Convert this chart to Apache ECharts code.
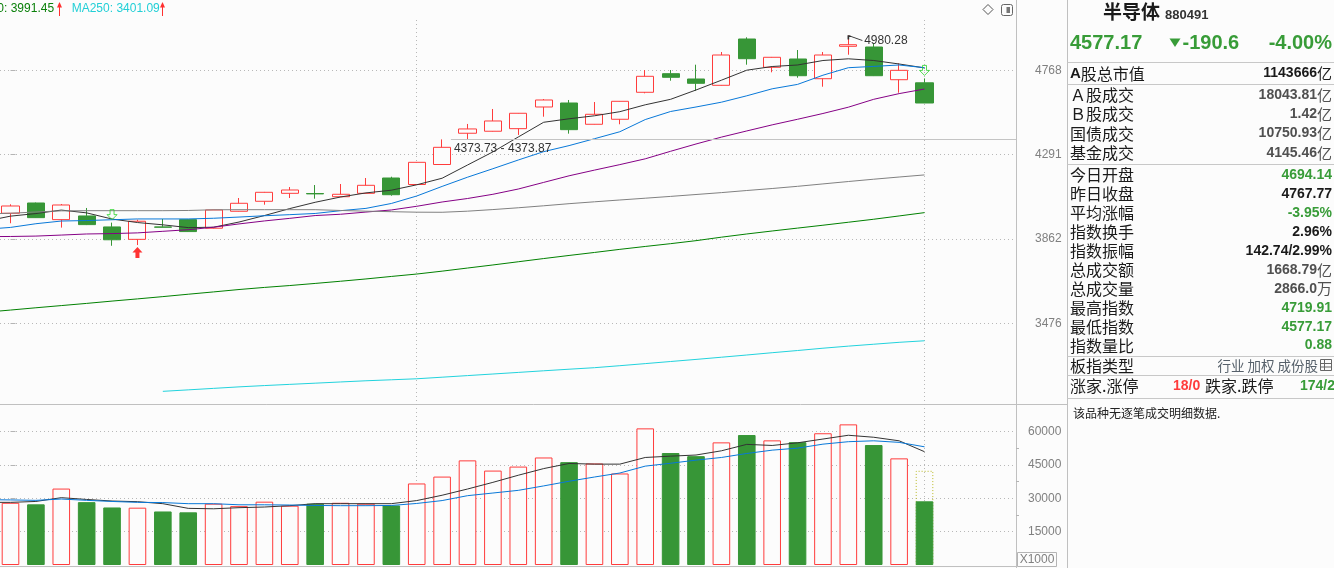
<!DOCTYPE html>
<html>
<head>
<meta charset="utf-8">
<title>半导体 880491</title>
<script src="https://cdn.jsdelivr.net/npm/echarts@6.0.0/dist/echarts.min.js"></script>
<style>
html,body{margin:0;padding:0;background:#fcfcfc;overflow:hidden;}
#chart{width:1334px;height:568px;}
</style>
</head>
<body>
<div id="chart"></div>
<script>
// ================= DATA =================
const opens  = [3988.3, 4039.8, 3956.6, 3974.9, 3920.8, 3860.4, 3920.8, 3956.6, 3914.5, 3998.2, 4048.4, 4088.9, 4087.9, 4071.6, 4088.9, 4167.8, 4134.1, 4238.7, 4407.5, 4418.5, 4432.8, 4554.4, 4577.2, 4457.2, 4485.1, 4638.8, 4747.8, 4716.5, 4679.5, 4958.1, 4785.9, 4835.8, 4718.2, 4913.1, 4908.8, 4712.3, 4694.14];
const closes = [4024.7, 3966.5, 4029.7, 3932.1, 3858.4, 3948.7, 3919.4, 3898.0, 4004.7, 4038.3, 4094.1, 4105.8, 4085.9, 4083.9, 4130.0, 4081.8, 4250.3, 4330.7, 4431.2, 4475.6, 4518.8, 4594.4, 4427.3, 4513.1, 4586.9, 4732.4, 4726.5, 4691.2, 4860.0, 4837.6, 4846.1, 4735.9, 4860.0, 4922.9, 4735.9, 4767.77, 4577.17];
const lows   = [3938.9, 3965.0, 3917.4, 3930.0, 3829.6, 3833.0, 3919.0, 3896.0, 3913.0, 3997.0, 4031.2, 4065.0, 4061.5, 4070.0, 4088.0, 4076.7, 4133.0, 4237.0, 4373.87, 4417.0, 4398.2, 4499.6, 4405.3, 4456.0, 4457.2, 4633.0, 4706.5, 4648.0, 4678.0, 4801.5, 4756.1, 4724.1, 4671.3, 4861.8, 4734.0, 4636.5, 4577.17];
const highs  = [4033.2, 4042.0, 4034.7, 4014.7, 3941.9, 3956.6, 3960.1, 3958.0, 4006.0, 4065.0, 4096.0, 4121.2, 4131.5, 4136.7, 4167.8, 4174.6, 4252.0, 4373.73, 4458.9, 4543.1, 4520.0, 4600.1, 4594.4, 4582.9, 4588.0, 4769.8, 4769.8, 4801.5, 4878.3, 4968.6, 4848.0, 4890.4, 4878.3, 4980.28, 4931.5, 4809.9, 4719.91];

// moving averages: first value belongs to the bar just left of the window
const MA_START = -1;
const ma5   = [3948.7, 3973.9, 3986.8, 4004.2, 3990.2, 3959.6, 3942.3, 3931.1, 3917.4, 3919.4, 3944.8, 3976.9, 4011.7, 4043.3, 4070.1, 4091.0, 4104.8, 4132.6, 4166.7, 4236.0, 4306.0, 4387.0, 4468.3, 4487.9, 4504.7, 4527.8, 4566.9, 4598.4, 4652.1, 4709.4, 4768.6, 4790.7, 4799.7, 4826.7, 4837.0, 4826.7, 4805.7, 4782.3];
const ma10  = [3909.1, 3918.4, 3936.5, 3949.7, 3952.2, 3956.1, 3960.1, 3960.1, 3960.1, 3963.5, 3969.4, 3975.9, 3981.3, 3987.3, 4001.2, 4012.7, 4037.3, 4075.2, 4124.3, 4172.0, 4216.5, 4262.6, 4307.3, 4340.0, 4377.4, 4415.8, 4483.4, 4528.9, 4554.4, 4581.8, 4618.5, 4659.1, 4684.8, 4738.9, 4783.5, 4791.3, 4799.7, 4783.5];
const ma20  = [3873.4, 3874.3, 3876.2, 3881.1, 3886.4, 3888.3, 3891.7, 3899.4, 3907.2, 3919.4, 3935.5, 3950.2, 3963.0, 3976.9, 3983.3, 3994.2, 4004.7, 4023.2, 4044.8, 4062.5, 4083.9, 4110.9, 4145.0, 4179.3, 4209.1, 4238.1, 4268.9, 4309.4, 4348.7, 4386.2, 4420.2, 4453.9, 4485.1, 4517.6, 4553.3, 4598.4, 4631.2, 4657.9];
const ma60  = [3984.8, 3988.3, 3994.7, 4000.2, 4001.2, 4001.2, 4001.2, 4001.2, 4002.2, 4005.7, 4006.2, 4006.2, 4006.2, 4006.2, 4002.2, 3998.7, 3996.2, 3993.7, 3993.2, 3998.7, 4006.7, 4015.7, 4025.7, 4036.3, 4045.8, 4054.9, 4064.0, 4073.2, 4082.8, 4092.5, 4103.3, 4113.5, 4124.8, 4137.2, 4149.6, 4161.6, 4173.0, 4184.0];
const ma120 = [3524.4, 3534.1, 3544.2, 3553.9, 3563.6, 3573.9, 3583.7, 3593.9, 3604.7, 3615.1, 3625.9, 3635.4, 3644.0, 3653.6, 3663.6, 3674.1, 3685.6, 3696.7, 3710.1, 3724.5, 3738.9, 3753.9, 3768.9, 3783.5, 3797.7, 3812.5, 3826.3, 3839.7, 3854.1, 3870.9, 3886.4, 3900.9, 3915.0, 3929.1, 3943.8, 3958.6, 3974.9, 3991.45];
const ma250 = [null, null, null, null, null, null, null, 3192.9, 3198.8, 3204.8, 3210.8, 3216.0, 3220.8, 3225.6, 3230.5, 3235.3, 3239.3, 3243.4, 3249.8, 3256.3, 3262.8, 3269.3, 3275.9, 3282.4, 3288.6, 3296.8, 3305.4, 3314.1, 3322.8, 3331.9, 3341.1, 3350.7, 3359.9, 3369.6, 3378.4, 3386.4, 3394.5, 3401.09];

// volume (x1000)
const volumes = [28000, 27300, 34400, 28300, 25900, 25800, 24100, 23700, 27600, 26500, 28500, 26700, 27600, 28000, 27600, 26800, 36700, 39800, 47100, 42500, 44300, 48400, 46300, 45700, 41200, 61500, 50400, 49000, 55200, 58500, 56100, 55300, 59300, 63300, 54000, 48000, 28660];
const volEstimateIndex = 36;
const volEstimate = 42400;
const volMa5  = [28200, 28200, 28600, 30300, 29500, 28800, 28500, 27600, 25500, 25300, 25800, 26100, 26700, 27600, 27600, 27600, 27600, 29000, 31400, 34200, 37200, 40400, 43400, 45700, 45400, 45400, 48400, 49000, 49500, 51400, 54300, 53800, 55000, 56700, 58400, 57500, 55900, 51000];
const volMa10 = [29400, 29300, 29100, 29700, 29100, 28600, 28200, 28100, 27600, 27600, 27100, 27100, 27000, 26800, 26700, 26700, 26800, 27700, 29000, 31200, 32400, 33600, 35600, 37700, 39600, 41400, 44500, 45800, 47200, 48400, 50200, 51700, 52600, 54400, 55500, 55900, 55200, 53200];

// axes
const priceTicks = [3476, 3862, 4291, 4768];
const volumeTicks = [15000, 30000, 45000, 60000];
const volumeMinorTicks = [22500, 37500, 52500];
const monthMarks = [16, 36];

// annotations
const gapIndex = 17, gapLow = 4373.73, gapHigh = 4373.87;
const highMarkIndex = 33;
const sellSignals = [4, 36];
const buySignals = [5];

// info panel texts
const panelTitle = '半导体', panelCode = '880491';
const quoteLast = '4577.17', quoteChange = '-190.6', quotePct = '-4.00%';
const infoLabels1 = ['A股总市值', 'Ａ股成交', 'Ｂ股成交', '国债成交', '基金成交'];
const infoValues1 = ['1143666亿', '18043.81亿', '1.42亿', '10750.93亿', '4145.46亿'];
const infoTone1   = ['flat', 'muted', 'muted', 'muted', 'muted'];
const infoLabels2 = ['今日开盘', '昨日收盘', '平均涨幅', '指数换手', '指数振幅', '总成交额', '总成交量', '最高指数', '最低指数', '指数量比'];
const infoValues2 = ['4694.14', '4767.77', '-3.95%', '2.96%', '142.74/2.99%', '1668.79亿', '2866.0万', '4719.91', '4577.17', '0.88'];
const infoTone2   = ['down', 'flat', 'down', 'flat', 'flat', 'muted', 'muted', 'down', 'down', 'down'];
const boardTypeLabel = '板指类型', boardTypeValue = '行业 加权 成份股';
const breadth = ['涨家.涨停', '18/0', '跌家.跌停', '174/2'];
const tickNote = '该品种无逐笔成交明细数据.';

// ================= LAYOUT / STYLE =================
const BG = '#fcfcfc';
const RED = '#ff3c3c';
const GREEN = '#379637';
const QGREEN = '#389c38';
const GRID_C = '#b8b8b8';
const BORDER_C = '#c0c0c0';
const SANS = '"Liberation Sans", Arial, sans-serif';
const CJK = '"Noto Sans CJK SC", sans-serif';
const PLOT_W = 1016;
const SLOT = 25.389, FIRST_CENTER = 10.5, BAR_W = 17.6;
const XMIN = -FIRST_CENTER / SLOT;
const XMAX = (PLOT_W - FIRST_CENTER) / SLOT;
const PMIN = 3142.8, PMAX = 5077.2;
const VMAX = 72470;

const chart = echarts.init(document.getElementById('chart'), null, {renderer: 'canvas'});

function maSeries(name, arr, color, xi, yi) {
  return {
    type: 'line', name, xAxisIndex: xi, yAxisIndex: yi, silent: true,
    data: arr.map((v, k) => [k + MA_START, v]),
    symbol: 'none', connectNulls: false,
    lineStyle: {width: 1, color}, itemStyle: {color}, z: 3
  };
}

const xAxisBase = g => ({
  type: 'value', gridIndex: g, min: XMIN, max: XMAX,
  axisLine: {show: false}, axisLabel: {show: false},
  axisTick: {show: false, customValues: monthMarks},
  splitLine: {show: true, lineStyle: {color: GRID_C, type: [1, 3], width: 1}}
});

const candleData = opens.map((o, i) => [i, o, closes[i], lows[i], highs[i]]);
const isUp = i => closes[i] >= opens[i];

// ---------- graphic (frame + info panel) ----------
const els = [];
const line = (x1, y1, x2, y2, c) => els.push({type: 'line', silent: true, shape: {x1, y1, x2, y2}, style: {stroke: c || BORDER_C, lineWidth: 1}});
const text = (x, y, t, st) => els.push({type: 'text', x, y, silent: true, style: Object.assign({text: t, fill: '#222', fontSize: 12, fontFamily: SANS, align: 'left', verticalAlign: 'middle'}, st)});

// frame
line(1016.5, 0, 1016.5, 568);
line(1067.5, 0, 1067.5, 568);
line(0, 404.5, 1067.5, 404.5);
line(0, 566.5, 1016.5, 566.5);
// X1000 box
els.push({type: 'rect', silent: true, shape: {x: 1017.5, y: 552.5, width: 39, height: 14}, style: {fill: 'none', stroke: '#b4b4b4', lineWidth: 1}});
text(1037, 560, 'X1000', {fill: '#808080', align: 'center'});
// top right icons
els.push({type: 'polygon', silent: true, shape: {points: [[988, 4.5], [993, 9.5], [988, 14.5], [983, 9.5]]}, style: {fill: 'none', stroke: '#555', lineWidth: 1}});
els.push({type: 'rect', silent: true, shape: {x: 1001.5, y: 4.5, width: 11, height: 11, r: 2}, style: {fill: 'none', stroke: '#666', lineWidth: 1}});
els.push({type: 'rect', silent: true, shape: {x: 1006.5, y: 7, width: 3.5, height: 6}, style: {fill: '#777'}});

// top legend (scrolled: MA120 partly hidden)
const lastMa120 = ma120[ma120.length - 1].toFixed(2);
const lastMa250 = ma250[ma250.length - 1].toFixed(2);
text(-34, 9, 'MA120: ' + lastMa120, {fill: '#0a800a'});
text(71.7, 9, 'MA250: ' + lastMa250, {fill: '#22cfd6'});
[59.5, 162.5].forEach(ax => {
  line(ax, 4, ax, 16, '#ff3030');
  els.push({type: 'polygon', silent: true, shape: {points: [[ax - 2.5, 7.5], [ax, 2], [ax + 2.5, 7.5]]}, style: {fill: '#ff3030'}});
});

// info panel
const toneColor = {up: RED, down: QGREEN, flat: '#1a1a1a', muted: '#505050'};
[62.5, 84.5, 164.5, 356.5, 375.5, 398.5].forEach(y => line(1067.5, y, 1334, y, '#c8c8c8'));
text(1103, 12, panelTitle, {fontFamily: CJK, fontSize: 19, fontWeight: 'bold', fill: '#1a1a1a'});
text(1165, 15.5, panelCode, {fontSize: 13, fontWeight: 'bold', fill: '#333'});
text(1070, 43, quoteLast, {fontSize: 20, fontWeight: 'bold', fill: QGREEN});
els.push({type: 'polygon', silent: true, shape: {points: [[1169.5, 38.5], [1180.5, 38.5], [1175, 47]]}, style: {fill: QGREEN}});
text(1182.5, 43, quoteChange, {fontSize: 20, fontWeight: 'bold', fill: QGREEN});
text(1332, 43, quotePct, {fontSize: 20, fontWeight: 'bold', fill: QGREEN, align: 'right'});

function valueText(y, v, tone) {
  const m = v.match(/^(.*?)([亿万]?)$/);
  const c = toneColor[tone];
  els.push({type: 'text', x: 1332, y, silent: true, style: {
    text: '{v|' + m[1] + '}' + (m[2] ? '{u|' + m[2] + '}' : ''),
    align: 'right', verticalAlign: 'middle',
    rich: {
      v: {fontSize: 14, fontWeight: 'bold', fontFamily: SANS, fill: c},
      u: {fontSize: 15, fontFamily: CJK, fill: c}
    }
  }});
}
function labelText(y, t) {
  if (t.charAt(0) === 'A') {
    els.push({type: 'text', x: 1070, y, silent: true, style: {
      text: '{b|A}{n|' + t.slice(1) + '}', align: 'left', verticalAlign: 'middle',
      rich: {b: {fontSize: 15, fontWeight: 'bold', fontFamily: SANS, fill: '#1a1a1a'}, n: {fontSize: 16, fontFamily: CJK, fill: '#1a1a1a'}}
    }});
  } else {
    text(1070, y, t, {fontFamily: CJK, fontSize: 16, fill: '#1a1a1a'});
  }
}
infoLabels1.forEach((l, k) => {
  const y = k === 0 ? 73.5 : 95 + (k - 1) * 19.27;
  labelText(y, l);
  valueText(y, infoValues1[k], infoTone1[k]);
});
infoLabels2.forEach((l, k) => {
  const y = 175 + k * 18.96;
  labelText(y, l);
  valueText(y, infoValues2[k], infoTone2[k]);
});
labelText(365.5, boardTypeLabel);
text(1318, 365.5, boardTypeValue, {fontFamily: CJK, fontSize: 13.5, fill: '#56606a', align: 'right'});
els.push({type: 'rect', silent: true, shape: {x: 1320.5, y: 359.5, width: 11, height: 11}, style: {fill: 'none', stroke: '#666', lineWidth: 1}});
line(1320.5, 363.5, 1331.5, 363.5, '#666');
line(1320.5, 367, 1331.5, 367, '#666');
line(1324.5, 359.5, 1324.5, 370.5, '#666');
labelText(386, breadth[0]);
text(1173, 386, breadth[1], {fontSize: 14, fontWeight: 'bold', fill: RED});
text(1205, 386, breadth[2], {fontFamily: CJK, fontSize: 16, fill: '#1a1a1a'});
text(1300, 386, breadth[3], {fontSize: 14, fontWeight: 'bold', fill: QGREEN});
text(1073, 413.5, tickNote, {fontFamily: CJK, fontSize: 12, fill: '#222'});

// ================= OPTION =================
const option = {
  backgroundColor: BG,
  animation: false,
  grid: [
    {left: 0, top: 20, width: PLOT_W, height: 384},
    {left: 0, top: 404, width: PLOT_W, height: 161}
  ],
  xAxis: [xAxisBase(0), xAxisBase(1)],
  yAxis: [
    {
      type: 'log', gridIndex: 0, position: 'right', min: PMIN, max: PMAX,
      axisLine: {show: false},
      axisTick: {show: true, length: 5, customValues: priceTicks, lineStyle: {color: '#b4b4b4'}},
      axisLabel: {customValues: priceTicks, margin: 19, color: '#808080', fontSize: 12, fontFamily: SANS,
                  formatter: v => String(Math.round(v))},
      splitLine: {show: true, lineStyle: {color: GRID_C, type: [1, 3], width: 1}}
    },
    {
      type: 'value', gridIndex: 1, position: 'right', min: 0, max: VMAX,
      axisLine: {show: false},
      axisTick: {show: true, length: 5, customValues: volumeTicks, lineStyle: {color: '#b4b4b4'}},
      axisLabel: {customValues: volumeTicks, margin: 12, color: '#808080', fontSize: 12, fontFamily: SANS,
                  formatter: v => String(Math.round(v))},
      splitLine: {show: true, lineStyle: {color: GRID_C, type: [1, 3], width: 1}}
    },
    {
      type: 'value', gridIndex: 1, position: 'right', min: 0, max: VMAX,
      axisLine: {show: false}, axisLabel: {show: false}, splitLine: {show: false},
      axisTick: {show: true, length: 3, customValues: volumeMinorTicks, lineStyle: {color: '#b4b4b4'}}
    }
  ],
  series: [
    {
      type: 'candlestick', name: 'K', xAxisIndex: 0, yAxisIndex: 0, silent: true,
      data: candleData, barWidth: BAR_W,
      itemStyle: {color: BG, color0: GREEN, borderColor: RED, borderColor0: GREEN, borderWidth: 1},
      markLine: {
        silent: true, symbol: ['none', 'none'], animation: false,
        lineStyle: {color: '#c4c4c4', type: 'solid', width: 1},
        label: {show: true, position: 'insideStartBottom', distance: 3, color: '#333', fontSize: 12, fontFamily: SANS,
                formatter: gapLow.toFixed(2) + ' - ' + gapHigh.toFixed(2)},
        data: [[
          {coord: [gapIndex + (BAR_W / 2) / SLOT, (gapLow + gapHigh) / 2]},
          {coord: [XMAX, (gapLow + gapHigh) / 2]}
        ]]
      },
      markPoint: {
        silent: true, animation: false,
        symbol: 'path://M0,4 L0,0 L2,0 M0,0 L14,5',
        symbolSize: [14, 5], symbolOffset: [7, 2.5], symbolKeepAspect: false,
        itemStyle: {color: 'transparent', borderColor: '#333', borderWidth: 1},
        label: {show: true, position: 'right', distance: 1, offset: [0, 2.5], color: '#333', fontSize: 12, fontFamily: SANS,
                formatter: () => highs[highMarkIndex].toFixed(2)},
        data: [{coord: [highMarkIndex, highs[highMarkIndex]], value: highs[highMarkIndex]}]
      }
    },
    maSeries('MA5', ma5, '#333333', 0, 0),
    maSeries('MA10', ma10, '#0878d8', 0, 0),
    maSeries('MA20', ma20, '#850085', 0, 0),
    maSeries('MA60', ma60, '#808080', 0, 0),
    maSeries('MA120', ma120, '#008000', 0, 0),
    maSeries('MA250', ma250, '#22d3dd', 0, 0),
    {
      type: 'scatter', name: 'sell', xAxisIndex: 0, yAxisIndex: 0, silent: true, z: 4,
      data: sellSignals.map(i => [i, highs[i]]),
      symbol: 'path://M3,0 L7,0 L7,5 L10,5 L5,10 L0,5 L3,5 Z', symbolSize: [10, 10], symbolOffset: [0, -8],
      itemStyle: {color: 'rgba(0,0,0,0)', borderColor: '#2ad42a', borderWidth: 1}
    },
    {
      type: 'scatter', name: 'buy', xAxisIndex: 0, yAxisIndex: 0, silent: true, z: 4,
      data: buySignals.map(i => [i, lows[i]]),
      symbol: 'path://M5,0 L10,5.5 L7,5.5 L7,11 L3,11 L3,5.5 L0,5.5 Z', symbolSize: [10, 11], symbolOffset: [0, 7.5],
      itemStyle: {color: '#ff0000'}
    },
    {
      type: 'bar', name: 'volEst', xAxisIndex: 1, yAxisIndex: 1, silent: true,
      barWidth: BAR_W, barGap: '-100%',
      data: [{value: [volEstimateIndex, volEstimate],
              itemStyle: {color: 'rgba(0,0,0,0)', borderColor: '#b8b820', borderType: [1, 2], borderWidth: 1}}]
    },
    {
      type: 'bar', name: 'vol', xAxisIndex: 1, yAxisIndex: 1, silent: true,
      barWidth: BAR_W, barGap: '-100%',
      data: volumes.map((v, i) => ({
        value: [i, v],
        itemStyle: isUp(i) ? {color: BG, borderColor: RED, borderWidth: 1} : {color: GREEN, borderColor: GREEN, borderWidth: 1}
      }))
    },
    maSeries('VMA5', volMa5, '#333333', 1, 1),
    maSeries('VMA10', volMa10, '#0878d8', 1, 1)
  ],
  graphic: {elements: els}
};
chart.setOption(option);
</script>
</body>
</html>
